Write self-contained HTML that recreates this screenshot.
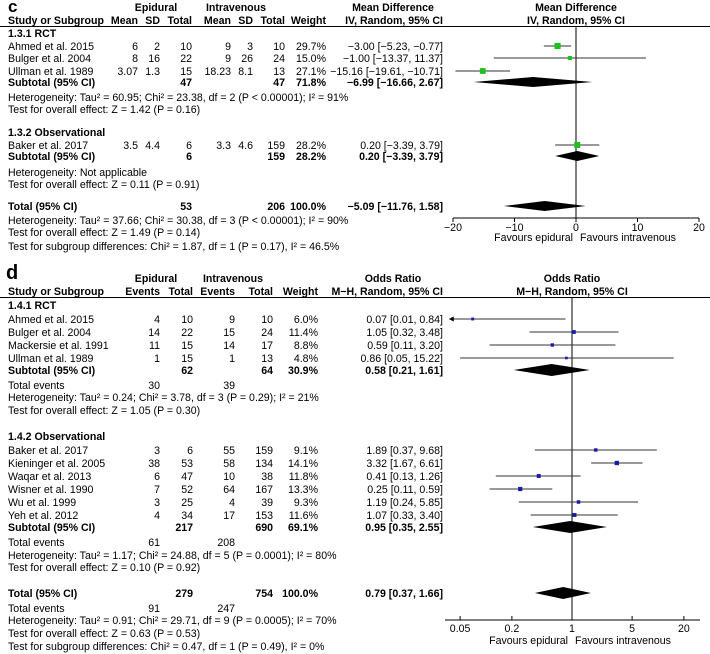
<!DOCTYPE html>
<html><head><meta charset="utf-8"><style>
html,body{margin:0;padding:0;background:#fff}
svg{display:block;font-family:"Liberation Sans",sans-serif;font-size:10.6px;fill:#000}
</style></head><body>
<svg id="chart" width="710" height="654" viewBox="0 0 710 654"></svg>
<script>
// ---- Panel c data (Mean Difference) ----
const cStudyNames = ["Ahmed et al. 2015","Bulger et al. 2004","Ullman et al. 1989","Baker et al. 2017"];
const cStudyRows = [
 ["6","2","10","9","3","10","29.7%"],
 ["8","16","22","9","26","24","15.0%"],
 ["3.07","1.3","15","18.23","8.1","13","27.1%"],
 ["3.5","4.4","6","3.3","4.6","159","28.2%"]];
const cEst = [-3.00,-1.00,-15.16,0.20];
const cLo = [-5.23,-13.37,-19.61,-3.39];
const cHi = [-0.77,11.37,-10.71,3.79];
const cWeight = [29.7,15.0,27.1,28.2];
const cSumEst = [-6.99,0.20,-5.09];
const cSumLo = [-16.66,-3.39,-11.76];
const cSumHi = [2.67,3.79,1.58];
const cTicks = [-20,-10,0,10,20];
// ---- Panel d data (Odds Ratio) ----
const dStudyNames = ["Ahmed et al. 2015","Bulger et al. 2004","Mackersie et al. 1991","Ullman et al. 1989","Baker et al. 2017","Kieninger et al. 2005","Waqar et al. 2013","Wisner et al. 1990","Wu et al. 1999","Yeh et al. 2012"];
const dStudyRows = [
 ["4","10","9","10","6.0%"],["14","22","15","24","11.4%"],["11","15","14","17","8.8%"],["1","15","1","13","4.8%"],
 ["3","6","55","159","9.1%"],["38","53","58","134","14.1%"],["6","47","10","38","11.8%"],["7","52","64","167","13.3%"],["3","25","4","39","9.3%"],["4","34","17","153","11.6%"]];
const dEst = [0.07,1.05,0.59,0.86,1.89,3.32,0.41,0.25,1.19,1.07];
const dLo = [0.01,0.32,0.11,0.05,0.37,1.67,0.13,0.11,0.24,0.33];
const dHi = [0.84,3.48,3.20,15.22,9.68,6.61,1.26,0.59,5.85,3.40];
const dWeight = [6.0,11.4,8.8,4.8,9.1,14.1,11.8,13.3,9.3,11.6];
const dSumEst = [0.58,0.95,0.79];
const dSumLo = [0.21,0.35,0.37];
const dSumHi = [1.61,2.55,1.66];
const dTicks = [0.05,0.2,1,5,20];

const svg=document.getElementById('chart');
const NS='http://www.w3.org/2000/svg';
function el(tag,attrs,parent){const e=document.createElementNS(NS,tag);for(const k in attrs)e.setAttribute(k,attrs[k]);(parent||svg).appendChild(e);return e;}
function txt(x,y,s,anchor,bold,name,size){const t=el('text',{x:x,y:y,'text-anchor':anchor||'start'});if(bold)t.setAttribute('font-weight','bold');if(size)t.setAttribute('font-size',size);t.textContent=s;


return t;}
function line(x1,y1,x2,y2,name,w,c){const l=el('line',{x1:x1,y1:y1,x2:x2,y2:y2,stroke:c||'#000','stroke-width':w||1});


return l;}
const fmt=v=>(v<0?'\u2212':'')+Math.abs(v).toFixed(2);

// ================= Panel c =================
const cx0=576, cScale=6.15;
const xc=v=>cx0+v*cScale;
txt(8,12,'c',null,true,'panel-c-label','17px');
txt(156,11,'Epidural','middle',true,'epidural-header');
txt(236,11,'Intravenous','middle',true,'intravenous-header');
txt(393,11,'Mean Difference','middle',true,'md-header');
txt(576,11,'Mean Difference','middle',true,'md-plot-header');
txt(8,24,'Study or Subgroup',null,true,'study-header');
const cColX=[138,160,192,231,253,285,326];
['Mean','SD','Total','Mean','SD','Total','Weight'].forEach((s,i)=>txt(cColX[i],24,s,'end',true,'col-header'));
txt(443,24,'IV, Random, 95% CI','end',true,'md-ci-header');
txt(576,24,'IV, Random, 95% CI','middle',true,'md-plot-subheader');
line(0,26.5,710,26.5,'header-rule-c');
line(xc(0),26,xc(0),218,'null-line-c');
txt(8,37,'1.3.1 RCT',null,true,'subgroup-rct-c');
const cY=[50,62,75,149];
cStudyNames.forEach((n,i)=>{
 txt(8,cY[i],n,null,false,'study-name');
 cStudyRows[i].forEach((s,j)=>txt(cColX[j],cY[i],s,'end',false,'study-value'));
 txt(443,cY[i],fmt(cEst[i])+' ['+fmt(cLo[i])+', '+fmt(cHi[i])+']','end',false,'study-ci');
 const y=cY[i]-4;
 line(xc(cLo[i]),y,xc(cHi[i]),y,'ci-line',1,'#333');
 const s=2+cWeight[i]*0.14;
 const r=el('rect',{x:xc(cEst[i])-s/2,y:y-s/2,width:s,height:s,fill:'#1fbf1f'});
 
 
});
const cSubY=[86,160,210];
[['Subtotal (95% CI)','47','47','71.8%'],['Subtotal (95% CI)','6','159','28.2%'],['Total (95% CI)','53','206','100.0%']].forEach((r,i)=>{
 txt(8,cSubY[i],r[0],null,true,'subtotal-label');
 txt(192,cSubY[i],r[1],'end',true,'subtotal-value');
 txt(285,cSubY[i],r[2],'end',true,'subtotal-value');
 txt(326,cSubY[i],r[3],'end',true,'subtotal-weight');
 txt(443,cSubY[i],fmt(cSumEst[i])+' ['+fmt(cSumLo[i])+', '+fmt(cSumHi[i])+']','end',true,'subtotal-ci');
 const y=cSubY[i]-4;
 const d=el('polygon',{points:`${xc(cSumLo[i])},${y} ${xc(cSumEst[i])},${y-5} ${xc(cSumHi[i])},${y} ${xc(cSumEst[i])},${y+5}`,fill:'#000'});
 
 
});
txt(8,101,'Heterogeneity: Tau² = 60.95; Chi² = 23.38, df = 2 (P < 0.00001); I² = 91%',null,false,'heterogeneity-rct-c');
txt(8,113,'Test for overall effect: Z = 1.42 (P = 0.16)',null,false,'overall-effect-rct-c');
txt(8,136,'1.3.2 Observational',null,true,'subgroup-obs-c');
txt(8,176,'Heterogeneity: Not applicable',null,false,'heterogeneity-obs-c');
txt(8,188,'Test for overall effect: Z = 0.11 (P = 0.91)',null,false,'overall-effect-obs-c');
txt(8,224,'Heterogeneity: Tau² = 37.66; Chi² = 30.38, df = 3 (P < 0.00001); I² = 90%',null,false,'heterogeneity-total-c');
txt(8,236,'Test for overall effect: Z = 1.49 (P = 0.14)',null,false,'overall-effect-total-c');
txt(8,250,'Test for subgroup differences: Chi² = 1.87, df = 1 (P = 0.17), I² = 46.5%',null,false,'subgroup-diff-c');
line(xc(-20),218,xc(20),218,'x-axis-c');
cTicks.forEach(t=>{line(xc(t),218,xc(t),222,'x-tick-c');txt(xc(t),231,(t<0?'\u2212':'')+Math.abs(t),'middle',false,'x-tick-label-c');});
txt(573,241,'Favours epidural','end',false,'favours-epidural-c');
txt(580,241,'Favours intravenous','start',false,'favours-intravenous-c');

// ================= Panel d =================
const dx0=572, dScale=86;
const xd=v=>dx0+Math.log10(v)*dScale;
txt(6,279,'d',null,true,'panel-d-label','20px');
txt(156,282,'Epidural','middle',true,'epidural-header-d');
txt(233,282,'Intravenous','middle',true,'intravenous-header-d');
txt(393,282,'Odds Ratio','middle',true,'or-header');
txt(572,282,'Odds Ratio','middle',true,'or-plot-header');
txt(8,295,'Study or Subgroup',null,true,'study-header-d');
const dColX=[160,193,235,273,318];
['Events','Total','Events','Total','Weight'].forEach((s,i)=>txt(dColX[i],295,s,'end',true,'col-header-d'));
txt(443,295,'M\u2212H, Random, 95% CI','end',true,'or-ci-header');
txt(572,295,'M\u2212H, Random, 95% CI','middle',true,'or-plot-subheader');
line(0,297.5,710,297.5,'header-rule-d');
line(dx0,297,dx0,620,'null-line-d');
txt(8,309,'1.4.1 RCT',null,true,'subgroup-rct-d');
const dY=[323,336,349,362,454,467,480,493,506,519];
dStudyNames.forEach((n,i)=>{
 txt(8,dY[i],n,null,false,'study-name');
 dStudyRows[i].forEach((s,j)=>txt(dColX[j],dY[i],s,'end',false,'study-value'));
 txt(443,dY[i],dEst[i].toFixed(2)+' ['+dLo[i].toFixed(2)+', '+dHi[i].toFixed(2)+']','end',false,'study-ci');
 const y=dY[i]-4;
 const lo=Math.max(dLo[i],0.04);
 line(xd(lo),y,xd(dHi[i]),y,'ci-line',1,'#333');
 if(dLo[i]<0.04){const a=el('polygon',{points:`${xd(lo)-3},${y} ${xd(lo)+2},${y-2.5} ${xd(lo)+2},${y+2.5}`,fill:'#000'});
  
  }
 const s=1.8+dWeight[i]*0.18;
 const r=el('rect',{x:xd(dEst[i])-s/2,y:y-s/2,width:s,height:s,fill:'#1a1aa8'});
 
 
});
const dSubY=[374,531,597];
[['Subtotal (95% CI)','62','64','30.9%'],['Subtotal (95% CI)','217','690','69.1%'],['Total (95% CI)','279','754','100.0%']].forEach((r,i)=>{
 txt(8,dSubY[i],r[0],null,true,'subtotal-label');
 txt(193,dSubY[i],r[1],'end',true,'subtotal-value');
 txt(273,dSubY[i],r[2],'end',true,'subtotal-value');
 txt(318,dSubY[i],r[3],'end',true,'subtotal-weight');
 txt(443,dSubY[i],dSumEst[i].toFixed(2)+' ['+dSumLo[i].toFixed(2)+', '+dSumHi[i].toFixed(2)+']','end',true,'subtotal-ci');
 const y=dSubY[i]-4;
 const d=el('polygon',{points:`${xd(dSumLo[i])},${y} ${xd(dSumEst[i])},${y-6} ${xd(dSumHi[i])},${y} ${xd(dSumEst[i])},${y+6}`,fill:'#000'});
 
 
});
txt(8,389,'Total events',null,false,'total-events-rct');txt(160,389,'30','end',false,'events-value');txt(235,389,'39','end',false,'events-value');
txt(8,401,'Heterogeneity: Tau² = 0.24; Chi² = 3.78, df = 3 (P = 0.29); I² = 21%',null,false,'heterogeneity-rct-d');
txt(8,414,'Test for overall effect: Z = 1.05 (P = 0.30)',null,false,'overall-effect-rct-d');
txt(8,440,'1.4.2 Observational',null,true,'subgroup-obs-d');
txt(8,546,'Total events',null,false,'total-events-obs');txt(160,546,'61','end',false,'events-value');txt(235,546,'208','end',false,'events-value');
txt(8,559,'Heterogeneity: Tau² = 1.17; Chi² = 24.88, df = 5 (P = 0.0001); I² = 80%',null,false,'heterogeneity-obs-d');
txt(8,571,'Test for overall effect: Z = 0.10 (P = 0.92)',null,false,'overall-effect-obs-d');
txt(8,612,'Total events',null,false,'total-events-all');txt(160,612,'91','end',false,'events-value');txt(235,612,'247','end',false,'events-value');
txt(8,624,'Heterogeneity: Tau² = 0.91; Chi² = 29.71, df = 9 (P = 0.0005); I² = 70%',null,false,'heterogeneity-total-d');
txt(8,637,'Test for overall effect: Z = 0.63 (P = 0.53)',null,false,'overall-effect-total-d');
txt(8,650,'Test for subgroup differences: Chi² = 0.47, df = 1 (P = 0.49), I² = 0%',null,false,'subgroup-diff-d');
line(445,620,700,620,'x-axis-d');
dTicks.forEach(t=>{line(xd(t),616,xd(t),620,'x-tick-d');txt(xd(t),632,String(t),'middle',false,'x-tick-label-d');});
txt(568,644,'Favours epidural','end',false,'favours-epidural-d');
txt(575,644,'Favours intravenous','start',false,'favours-intravenous-d');
</script>
</body></html>
